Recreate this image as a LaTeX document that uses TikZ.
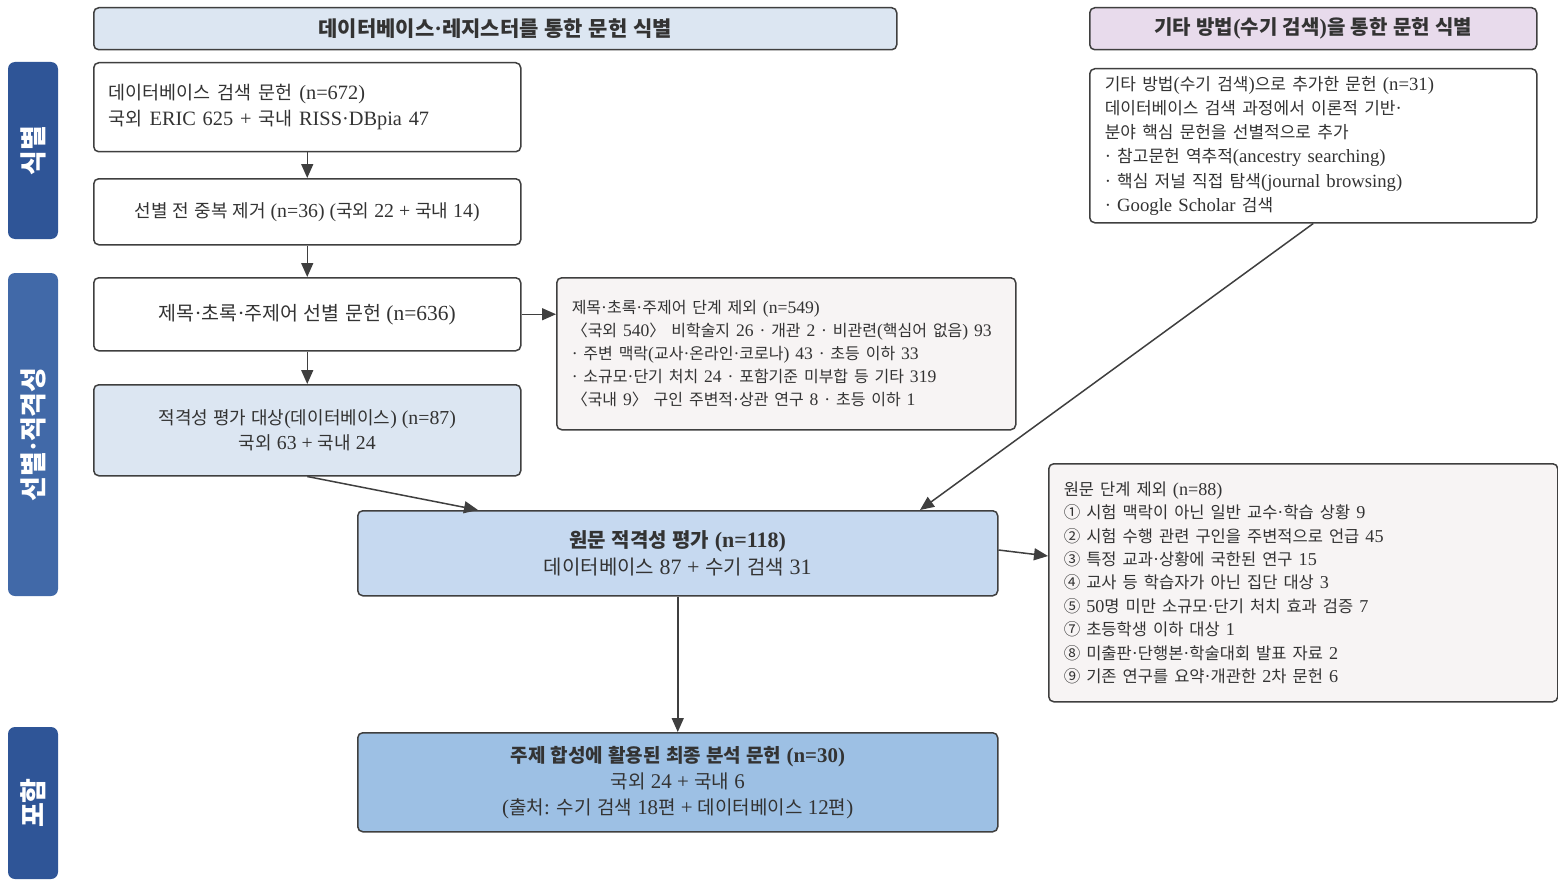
\documentclass[tikz,border=0pt]{standalone}
\usepackage{fontspec}
\usetikzlibrary{arrows.meta,calc}
\setmainfont{Liberation Serif}[Scale=1.1]
\newfontfamily\krfont{Noto Sans CJK KR}
\XeTeXinterchartokenstate=1
\newXeTeXintercharclass\krclass
\count255="AC00
\loop\XeTeXcharclass\count255=\krclass\advance\count255 by 1 \ifnum\count255<"D7A4 \repeat
\count255="2460
\loop\XeTeXcharclass\count255=\krclass\advance\count255 by 1 \ifnum\count255<"2474 \repeat
\XeTeXcharclass"3008=\krclass
\XeTeXcharclass"3009=\krclass
\XeTeXinterchartoks 0 \krclass = {\krfont}
\XeTeXinterchartoks 4095 \krclass = {\krfont}
\XeTeXinterchartoks \krclass 0 = {\rmfamily}
\XeTeXinterchartoks \krclass 4095 = {\rmfamily}
\definecolor{lc}{HTML}{3F3F3F}
\definecolor{txt}{HTML}{333333}
\definecolor{hdrL}{HTML}{DCE6F2}
\definecolor{hdrR}{HTML}{E8DBEC}
\definecolor{barA}{HTML}{2F5597}
\definecolor{barB}{HTML}{4169A8}
\definecolor{elig}{HTML}{DCE6F2}
\definecolor{full}{HTML}{C6D9F0}
\definecolor{final}{HTML}{9DC0E4}
\definecolor{excl}{HTML}{F7F4F4}
\begin{document}
\begin{tikzpicture}[x=1pt,y=-1pt,
  box/.style={draw=lc, line width=1.5pt, rounded corners=5pt, inner sep=0pt,
    anchor=north west, text=txt, align=center},
  lbox/.style={box, align=left, inner xsep=15pt},
  hdr/.style={box, font=\fontsize{21}{24}\selectfont\bfseries},
  phase/.style={fill=#1, rounded corners=7pt, rotate=90, text=white,
    font=\fontsize{27}{30}\selectfont\bfseries, inner sep=0pt, minimum height=50pt},
  arr/.style={draw=lc, line width=1.5pt, -{Triangle[length=14pt,width=12pt]}}]
\useasboundingbox[fill=white] (0,0) rectangle (1558,880);

% headers
\node[hdr, fill=hdrL, minimum width=803pt, minimum height=42pt] (hL) at (93,7)
  {데이터베이스·레지스터를 통한 문헌 식별};
\node[hdr, fill=hdrR, minimum width=447pt, minimum height=42pt, font=\fontsize{20}{24}\selectfont\bfseries] (hR) at (1089,7)
  {기타 방법(수기 검색)을 통한 문헌 식별};

% phase bars
\node[phase=barA, minimum width=177pt] (p1) at (33,150.5) {식별};
\node[phase=barB, minimum width=323pt] (p2) at (33,434.5) {선별·적격성};
\node[phase=barA, minimum width=152pt] (p3) at (33,803) {포함};

% left column
\node[lbox, fill=white, text width=397pt, minimum height=89pt,
  font=\fontsize{18.5}{26}\selectfont] (A) at (93,62)
  {데이터베이스 검색 문헌 (n=672)\\국외 ERIC 625 + 국내 RISS·DBpia 47};
\node[box, fill=white, minimum width=427pt, minimum height=66pt,
  font=\fontsize{18}{26}\selectfont] (B) at (93,178)
  {선별 전 중복 제거 (n=36) (국외 22 + 국내 14)};
\node[box, fill=white, minimum width=427pt, minimum height=73pt,
  font=\fontsize{19.5}{26}\selectfont] (C) at (93,277)
  {제목·초록·주제어 선별 문헌 (n=636)};
\node[box, fill=elig, minimum width=427pt, minimum height=91pt,
  font=\fontsize{18}{25}\selectfont] (D) at (93,384)
  {적격성 평가 대상(데이터베이스) (n=87)\\국외 63 + 국내 24};

% screening exclusions
\node[lbox, fill=excl, text width=429pt, minimum height=152pt,
  font=\fontsize{16}{23}\selectfont] (E) at (556,277)
  {제목·초록·주제어 단계 제외 (n=549)\\〈국외 540〉 비학술지 26 · 개관 2 · 비관련(핵심어 없음) 93\\· 주변 맥락(교사·온라인·코로나) 43 · 초등 이하 33\\· 소규모·단기 처치 24 · 포함기준 미부합 등 기타 319\\〈국내 9〉 구인 주변적·상관 연구 8 · 초등 이하 1};

% other methods
\node[lbox, fill=white, text width=417pt, minimum height=154pt,
  font=\fontsize{17}{24.3}\selectfont] (F) at (1089,68)
  {기타 방법(수기 검색)으로 추가한 문헌 (n=31)\\데이터베이스 검색 과정에서 이론적 기반·\\분야 핵심 문헌을 선별적으로 추가\\· 참고문헌 역추적(ancestry searching)\\· 핵심 저널 직접 탐색(journal browsing)\\· Google Scholar 검색};

% full text
\node[box, fill=full, minimum width=640pt, minimum height=85pt,
  font=\fontsize{20}{27}\selectfont] (G) at (357,510)
  {\textbf{원문 적격성 평가 (n=118)}\\데이터베이스 87 + 수기 검색 31};

% full text exclusions
\node[lbox, fill=excl, text width=479pt, minimum height=238pt,
  font=\fontsize{16.5}{23.4}\selectfont] (H) at (1048,463)
  {원문 단계 제외 (n=88)\\① 시험 맥락이 아닌 일반 교수·학습 상황 9\\② 시험 수행 관련 구인을 주변적으로 언급 45\\③ 특정 교과·상황에 국한된 연구 15\\④ 교사 등 학습자가 아닌 집단 대상 3\\⑤ 50명 미만 소규모·단기 처치 효과 검증 7\\⑦ 초등학생 이하 대상 1\\⑧ 미출판·단행본·학술대회 발표 자료 2\\⑨ 기존 연구를 요약·개관한 2차 문헌 6};

% final
\node[box, fill=final, minimum width=640pt, minimum height=99pt,
  font=\fontsize{19}{26}\selectfont] (I) at (357,732)
  {\textbf{주제 합성에 활용된 최종 분석 문헌 (n=30)}\\국외 24 + 국내 6\\(출처: 수기 검색 18편 + 데이터베이스 12편)};

% connectors
\draw[arr] (A) -- (B);
\draw[arr] (B) -- (C);
\draw[arr] (C) -- (D);
\draw[arr] (C.east) -- (C.east -| E.west);
\draw[arr] (D.south) -- ($(G.north west)+(121,0)$);
\draw[arr] (F.south) -- ($(G.north west)+(563,0)$);
\draw[arr] ($(G.north east)+(0,40)$) -- ($(H.north west)+(0,93)$);
\draw[arr] (G) -- (I);
\end{tikzpicture}
\end{document}
